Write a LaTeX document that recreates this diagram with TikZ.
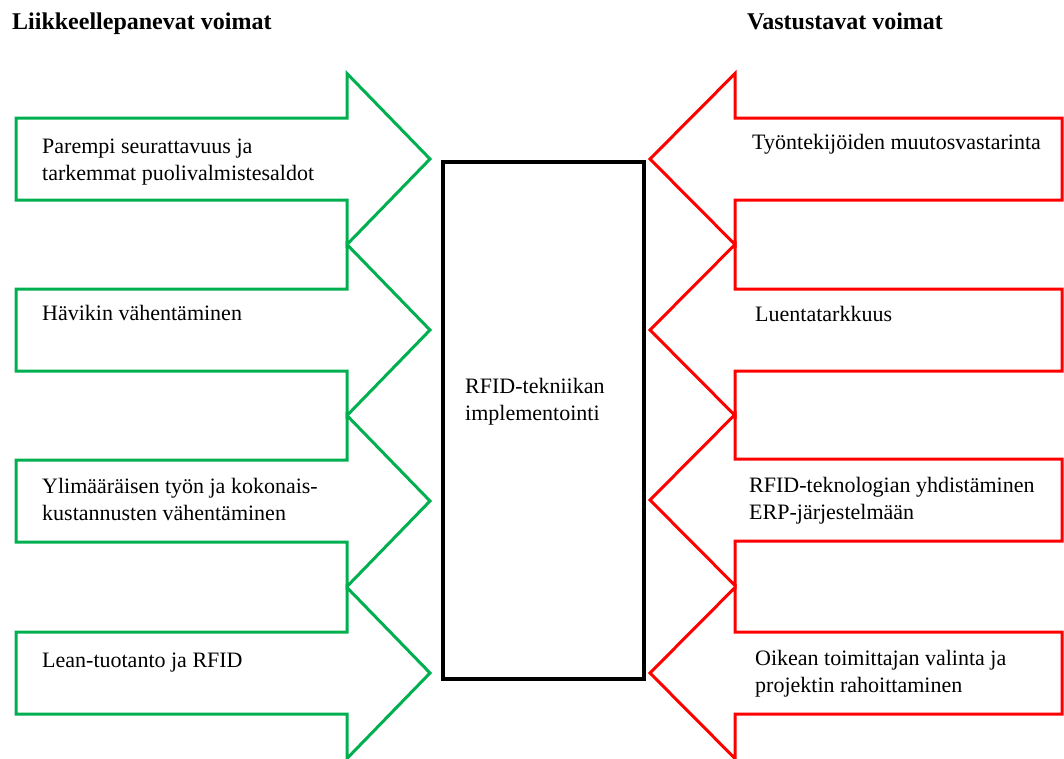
\documentclass[tikz,border=0pt]{standalone}
\usepackage{fontspec}
\setmainfont{Liberation Serif}
\definecolor{pushgreen}{HTML}{00B050}
\definecolor{resistred}{HTML}{FF0000}
\tikzset{
  forcebody/.style={line width=3pt, line join=miter},
  drive/.style={forcebody, draw=pushgreen},
  resist/.style={forcebody, draw=resistred},
  forcetext/.style={anchor=north west, inner sep=0pt, align=left,
    font=\fontsize{22}{27.5}\selectfont},
  heading/.style={anchor=base west, inner sep=0pt,
    font=\fontsize{24}{28}\selectfont\bfseries},
  centrebox/.style={draw=black, line width=4pt, anchor=north west,
    inner sep=0pt, minimum width=201pt, minimum height=517pt},
}
\begin{document}
\begin{tikzpicture}[x=1pt, y=-1pt]
  \fill[white] (0,0) rectangle (1064,758);
  \useasboundingbox (0,0) rectangle (1064,758);

  % column headings
  \node[heading] (hdrive)  at (12,29)  {Liikkeellepanevat voimat};
  \node[heading] (hresist) at (747,29) {Vastustavat voimat};

  % central block
  \node[centrebox] (impl) at (441,160) {};
  \node[forcetext] (impltext) at (465,373.75)
    {\strut RFID-tekniikan\\implementointi};

  % driving forces: block arrows pointing right
  \foreach \c in {159,330,501,673} {
    \draw[drive] (16,\c-41) -- (347,\c-41) -- (347,\c-85.5) -- (430,\c)
      -- (347,\c+85.5) -- (347,\c+41) -- (16,\c+41) -- cycle;
  }
  % resisting forces: block arrows pointing left
  \foreach \c in {159,330,500,673} {
    \draw[resist] (1062,\c-41) -- (735,\c-41) -- (735,\c-85.5) -- (650,\c)
      -- (735,\c+85.5) -- (735,\c+41) -- (1062,\c+41) -- cycle;
  }

  % driving force labels
  \node[forcetext] (d1) at (42,133.75)
    {\strut Parempi seurattavuus ja\\tarkemmat puolivalmistesaldot};
  \node[forcetext] (d2) at (42,300.75) {\strut Hävikin vähentäminen};
  \node[forcetext] (d3) at (42,473.75)
    {\strut Ylimääräisen työn ja kokonais-\\kustannusten vähentäminen};
  \node[forcetext] (d4) at (42,647.75) {\strut Lean-tuotanto ja RFID};

  % resisting force labels
  \node[forcetext] (r1) at (752,129.75) {\strut Työntekijöiden muutosvastarinta};
  \node[forcetext] (r2) at (755,301.75) {\strut Luentatarkkuus};
  \node[forcetext] (r3) at (749,472.75)
    {\strut RFID-teknologian yhdistäminen\\ERP-järjestelmään};
  \node[forcetext] (r4) at (755,645.75)
    {\strut Oikean toimittajan valinta ja\\projektin rahoittaminen};
\end{tikzpicture}
\end{document}
